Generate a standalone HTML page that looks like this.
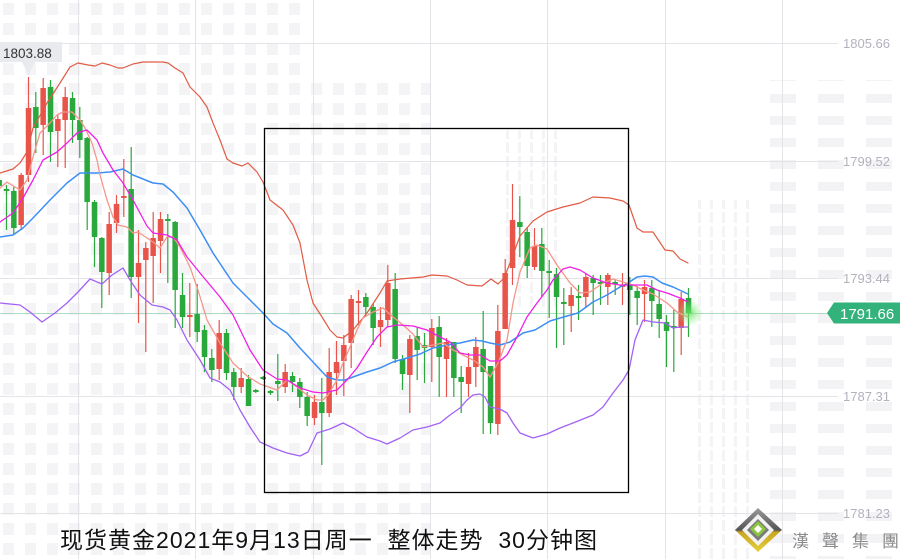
<!DOCTYPE html>
<html><head><meta charset="utf-8"><style>
html,body{margin:0;padding:0;background:#fff;}
svg{display:block;}
</style></head><body>
<svg width="900" height="559" viewBox="0 0 900 559" xmlns="http://www.w3.org/2000/svg">
<defs>
<pattern id="wm1" x="0" y="0" width="22" height="20" patternUnits="userSpaceOnUse"><rect x="3" y="3" width="11" height="12" fill="#f4f4f6"/></pattern>
<pattern id="wm2" x="0" y="0" width="48" height="22" patternUnits="userSpaceOnUse"><rect x="2" y="6" width="26" height="9" fill="#f3f3f5"/></pattern>
<pattern id="wm3" x="0" y="0" width="12" height="14" patternUnits="userSpaceOnUse"><rect x="2" y="2" width="3" height="11" fill="#f4f4f6"/></pattern>
<radialGradient id="glow"><stop offset="0" stop-color="#5fe05a" stop-opacity="0.8"/><stop offset="1" stop-color="#8fef8a" stop-opacity="0"/></radialGradient>
<linearGradient id="gold" x1="0" y1="0" x2="0" y2="1"><stop offset="0" stop-color="#9a9a9a"/><stop offset="0.5" stop-color="#555"/><stop offset="0.55" stop-color="#c8a623"/><stop offset="1" stop-color="#e6cf3a"/></linearGradient>
</defs>
<rect width="900" height="559" fill="#fff"/>
<!-- watermark -->
<rect x="0" y="0" width="300" height="559" fill="url(#wm1)"/>
<rect x="300" y="80" width="130" height="479" fill="url(#wm1)"/>
<rect x="500" y="130" width="60" height="180" fill="url(#wm3)"/>
<rect x="695" y="200" width="55" height="359" fill="url(#wm3)"/>
<rect x="770" y="80" width="130" height="479" fill="url(#wm2)"/>

<!-- grid -->
<g stroke="#e3e3e8" stroke-width="1">
<path d="M0 43.5H838M0 161.5H838M0 278.5H838M0 396.5H838M0 513.5H838"/>
<path d="M78.5 0V559M195.5 0V559M313.5 0V559M430.5 0V559M547.5 0V559M665.5 0V559M782.5 0V559"/>
</g>
<path d="M0 313.5H838" stroke="#a9dcc2" stroke-width="1"/>

<!-- axis labels -->
<g font-family="Liberation Sans, sans-serif" font-size="13" fill="#b2b2be">
<text x="843" y="48">1805.66</text>
<text x="843" y="166">1799.52</text>
<text x="843" y="283">1793.44</text>
<text x="843" y="401">1787.31</text>
<text x="843" y="518">1781.23</text>
</g>

<!-- candles green -->
<g stroke="#29a83b" stroke-width="1.2" fill="none">
<path d="M-0.8 178V190M6.5 185V230M13.8 187V235M35.8 92V153M50.5 80V162M72.5 92V143M79.8 107V158M87.2 137V230M94.5 200V267M101.8 237V308M131.2 147V298M167.8 214V283M175.2 221V328M182.5 273V328M197.2 284V342M204.5 325V372M211.8 349V382M226.5 329V380M233.8 368V400M248.5 375V406M255.8 389V393M263.2 376V380M270.5 390V395M277.8 354V401M292.5 372V392M299.8 378V408M307.2 392V426M321.8 378V465M365.8 293V317M373.2 303V345M395.2 273V363M402.5 355V390M417.2 327V380M424.5 333V383M439.2 316V397M453.8 342V397M461.2 366V413M483.2 311V434M490.5 366V434M519.8 196V257M527.2 227V278M541.8 228V297M549.2 260V318M556.5 268V348M563.8 288V345M578.5 285V320M593.2 275V315M600.5 275V305M615.2 280V295M629.8 277V315M637.2 286V325M651.8 280V327M659.2 290V338M666.5 315V367M673.8 310V372M688.5 288V337"/>
</g>
<g fill="#29a83b">
<rect x="-3.6" y="180" width="5.5" height="6"/><rect x="3.8" y="189" width="5.5" height="2"/><rect x="11.1" y="191" width="5.5" height="37"/><rect x="33.1" y="107" width="5.5" height="21"/><rect x="47.8" y="87" width="5.5" height="45"/><rect x="69.8" y="98" width="5.5" height="22"/><rect x="77.1" y="120" width="5.5" height="20"/><rect x="84.4" y="138" width="5.5" height="64"/><rect x="91.8" y="202" width="5.5" height="35"/><rect x="99.1" y="238" width="5.5" height="34"/><rect x="128.4" y="189" width="5.5" height="88"/><rect x="165.1" y="219" width="5.5" height="2"/><rect x="172.4" y="222" width="5.5" height="68"/><rect x="179.8" y="295" width="5.5" height="22"/><rect x="194.4" y="314" width="5.5" height="18"/><rect x="201.8" y="330" width="5.5" height="27"/><rect x="209.1" y="358" width="5.5" height="12"/><rect x="223.8" y="333" width="5.5" height="40"/><rect x="231.1" y="372" width="5.5" height="15"/><rect x="245.8" y="379" width="5.5" height="27"/><rect x="253.1" y="390" width="5.5" height="2"/><rect x="260.4" y="377" width="5.5" height="2"/><rect x="267.8" y="391" width="5.5" height="2"/><rect x="275.1" y="381" width="5.5" height="3"/><rect x="289.8" y="376" width="5.5" height="6"/><rect x="297.1" y="382" width="5.5" height="15"/><rect x="304.4" y="397" width="5.5" height="19"/><rect x="319.1" y="402" width="5.5" height="11"/><rect x="363.1" y="297" width="5.5" height="10"/><rect x="370.4" y="307" width="5.5" height="21"/><rect x="392.4" y="289" width="5.5" height="70"/><rect x="399.8" y="359" width="5.5" height="15"/><rect x="414.4" y="336" width="5.5" height="14"/><rect x="421.8" y="345" width="5.5" height="3"/><rect x="436.4" y="327" width="5.5" height="30"/><rect x="451.1" y="342" width="5.5" height="36"/><rect x="458.4" y="377" width="5.5" height="5"/><rect x="480.4" y="349" width="5.5" height="23"/><rect x="487.8" y="366" width="5.5" height="57"/><rect x="517.1" y="222" width="5.5" height="5"/><rect x="524.4" y="232" width="5.5" height="34"/><rect x="539.1" y="244" width="5.5" height="27"/><rect x="546.4" y="271" width="5.5" height="2"/><rect x="553.8" y="274" width="5.5" height="23"/><rect x="561.1" y="302" width="5.5" height="2"/><rect x="575.8" y="296" width="5.5" height="2"/><rect x="590.4" y="278" width="5.5" height="5"/><rect x="597.8" y="282" width="5.5" height="2"/><rect x="612.4" y="282" width="5.5" height="2"/><rect x="627.1" y="284" width="5.5" height="6"/><rect x="634.4" y="291" width="5.5" height="7"/><rect x="649.1" y="288" width="5.5" height="13"/><rect x="656.4" y="304" width="5.5" height="15"/><rect x="663.8" y="322" width="5.5" height="9"/><rect x="671.1" y="326" width="5.5" height="2"/><rect x="685.8" y="298" width="5.5" height="15"/>
</g>
<!-- candles red -->
<g stroke="#e8534a" stroke-width="1.2" fill="none">
<path d="M21.2 173V230M28.5 77V182M43.2 78V155M57.8 115V167M65.2 87V168M109.2 212V295M116.5 195V233M123.8 159V217M138.5 230V323M145.8 242V352M153.2 212V303M160.5 212V273M189.8 283V337M219.2 320V380M241.2 368V393M285.2 364V393M314.5 395V425M329.2 348V417M336.5 341V395M343.8 335V396M351.2 295V368M358.5 290V325M380.5 307V347M387.8 265V327M409.8 335V413M431.8 319V382M446.5 338V397M468.5 353V397M475.8 337V387M497.8 305V435M505.2 259V329M512.5 184V285M534.5 228V270M571.2 287V332M585.8 273V307M607.8 273V305M622.5 273V305M644.5 280V322M681.2 292V355"/>
</g>
<g fill="#e8534a">
<rect x="18.4" y="175" width="5.5" height="50"/><rect x="25.8" y="108" width="5.5" height="67"/><rect x="40.4" y="88" width="5.5" height="37"/><rect x="55.1" y="119" width="5.5" height="12"/><rect x="62.4" y="97" width="5.5" height="23"/><rect x="106.4" y="224" width="5.5" height="49"/><rect x="113.8" y="204" width="5.5" height="19"/><rect x="121.1" y="196" width="5.5" height="2"/><rect x="135.8" y="263" width="5.5" height="14"/><rect x="143.1" y="248" width="5.5" height="12"/><rect x="150.4" y="238" width="5.5" height="18"/><rect x="157.8" y="219" width="5.5" height="22"/><rect x="187.1" y="315" width="5.5" height="2"/><rect x="216.4" y="333" width="5.5" height="36"/><rect x="238.4" y="378" width="5.5" height="9"/><rect x="282.4" y="372" width="5.5" height="15"/><rect x="311.8" y="402" width="5.5" height="16"/><rect x="326.4" y="372" width="5.5" height="41"/><rect x="333.8" y="362" width="5.5" height="11"/><rect x="341.1" y="345" width="5.5" height="16"/><rect x="348.4" y="299" width="5.5" height="44"/><rect x="355.8" y="301" width="5.5" height="2"/><rect x="377.8" y="320" width="5.5" height="7"/><rect x="385.1" y="283" width="5.5" height="37"/><rect x="407.1" y="339" width="5.5" height="36"/><rect x="429.1" y="328" width="5.5" height="19"/><rect x="443.8" y="342" width="5.5" height="17"/><rect x="465.8" y="367" width="5.5" height="17"/><rect x="473.1" y="347" width="5.5" height="20"/><rect x="495.1" y="331" width="5.5" height="93"/><rect x="502.4" y="273" width="5.5" height="56"/><rect x="509.8" y="220" width="5.5" height="48"/><rect x="531.8" y="246" width="5.5" height="21"/><rect x="568.4" y="295" width="5.5" height="11"/><rect x="583.1" y="277" width="5.5" height="20"/><rect x="605.1" y="275" width="5.5" height="12"/><rect x="619.8" y="285" width="5.5" height="2"/><rect x="641.8" y="287" width="5.5" height="7"/><rect x="678.4" y="299" width="5.5" height="29"/>
</g>

<!-- indicator lines -->
<g fill="none" stroke-linejoin="round" stroke-linecap="round">
<polyline stroke="#e15b44" stroke-width="1.2" points="0,173 13,169 20,163 27,152 33,128 47,103 60,83 70,67 78,63 88,65 95,66 102,63 110,65 118,68 123,68 133,64 143,62 163,62 168,63 175,68 183,73 190,87 200,97 207,107 213,123 220,140 227,159 233,163 242,166 248,163 257,172 263,182 270,200 283,210 293,225 300,243 307,280 313,303 322,317 330,330 337,337 343,338 353,330 367,313 380,293 387,281 400,279 423,277 432,275 447,276 457,280 467,285 482,286 491,279 498,284 504,278 510,263 520,236 533,221 547,212 563,207 580,203 593,197 610,198 623,201 629,205 637,228 643,232 653,232 665,250 673,251 680,259 688,263"/>
<polyline stroke="#3d8ef5" stroke-width="1.5" points="0,237 13,235 23,228 33,218 50,200 67,183 80,173 97,173 110,172 123,169 133,175 153,183 163,184 173,192 187,208 200,230 213,253 233,283 250,300 263,313 273,324 287,333 300,348 313,362 327,377 337,380 345,380 353,377 367,372 380,368 393,362 407,358 420,354 433,348 447,345 460,343 473,340 482,341 490,343 500,345 510,342 523,333 535,330 550,321 567,316 578,313 593,302 607,295 620,287 628,283 637,277 645,276 653,277 662,283 673,287 688,294"/>
<polyline stroke="#a262f5" stroke-width="1.3" points="0,303 20,305 30,312 42,322 55,313 67,303 78,292 90,279 102,284 112,275 123,268 130,280 140,295 152,305 163,307 170,310 177,320 187,340 200,360 210,378 220,382 230,390 240,410 250,427 260,442 273,448 287,453 300,456 308,452 317,433 330,429 343,423 353,428 367,437 380,441 387,444 400,438 413,430 427,427 440,423 450,415 460,408 467,400 473,395 480,394 485,397 490,407 500,409 507,413 513,423 520,433 533,438 547,434 560,428 573,423 593,415 603,407 613,393 623,380 629,370 635,340 643,320 653,322 665,323 673,328 680,327 688,327"/>
<polyline stroke="#f5968a" stroke-width="1.3" points="0,188 7,182 20,190 27,180 33,157 40,133 50,123 57,115 63,112 72,112 80,120 85,128 92,143 97,160 100,175 107,200 113,217 118,225 127,227 133,233 138,232 147,238 153,242 160,248 167,237 173,237 180,247 190,267 198,290 207,320 220,343 233,363 247,376 260,384 277,390 287,380 297,387 307,395 317,400 323,400 328,395 337,380 343,363 350,347 357,330 363,318 373,312 383,308 393,317 403,325 413,334 423,347 433,345 443,343 453,350 463,355 473,360 483,367 490,377 498,363 507,340 513,303 520,272 530,248 537,245 547,249 557,265 570,283 580,293 590,292 603,283 613,279 623,282 633,285 643,290 653,294 667,303 677,312 688,317"/>
<polyline stroke="#f01ee6" stroke-width="1.3" points="0,222 13,213 23,198 33,180 43,160 57,152 67,143 77,133 87,130 97,140 103,153 113,170 123,183 133,200 147,226 153,233 167,235 177,240 187,257 200,273 220,297 233,315 250,350 263,370 277,379 287,380 300,388 313,392 323,393 337,390 347,380 357,368 367,352 377,337 387,327 397,325 413,326 427,330 440,337 450,342 460,353 470,355 480,355 490,361 500,361 507,355 517,337 527,317 537,303 547,290 553,280 563,269 570,267 580,270 593,278 607,283 620,285 633,285 647,285 657,290 667,293 680,298 688,302"/>
</g>

<!-- glow -->
<circle cx="690" cy="313" r="13" fill="url(#glow)"/>

<!-- rectangle -->
<rect x="264.5" y="128.5" width="364" height="364" fill="none" stroke="#000" stroke-width="1.3"/>

<!-- tooltip -->
<path d="M0 42H62V62H35L28.5 75L22 62H0Z" fill="#e8eaed"/>
<text x="3" y="58" font-family="Liberation Sans, sans-serif" font-size="13.5" fill="#333">1803.88</text>

<!-- price tag -->
<path d="M827 313L834 302.5H900V323.5H834Z" fill="#34b27b"/>
<text x="840" y="319" font-family="Liberation Sans, sans-serif" font-size="15" fill="#fff">1791.66</text>

<!-- title -->
<text x="60" y="548" font-family="Liberation Sans, Noto Sans CJK SC, sans-serif" font-size="23" fill="#111" textLength="537" lengthAdjust="spacing" xml:space="preserve">现货黄金2021年9月13日周一  整体走势  30分钟图</text>

<!-- logo -->
<polygon points="758,508 782,530 758,552 735,530" fill="url(#gold)"/>
<polygon points="758,514 774,530 758,546 742,530" fill="#f2f2f2"/>
<polygon points="758,519 769,530 758,541 747,530" fill="#7a7a7a"/>
<polygon points="758,521 766,529 758,537 750,529" fill="#8cc63f"/>
<polygon points="758,525 762,529 758,533 754,529" fill="#fff"/>
<g font-family="Liberation Sans, Noto Sans CJK TC, sans-serif" font-size="17" fill="#8a8a8a">
<text x="792" y="547">漢</text>
<text x="822" y="547">聲</text>
<text x="852" y="547">集</text>
<text x="882" y="547">團</text>
</g>
</svg>
</body></html>
